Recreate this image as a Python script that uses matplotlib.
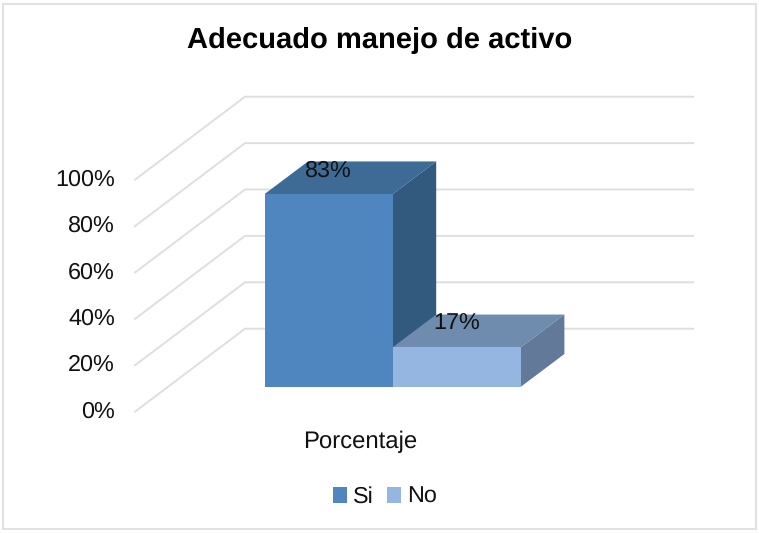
import matplotlib
matplotlib.use('Agg')
import matplotlib.pyplot as plt
from matplotlib.patches import Polygon, Rectangle

plt.rcParams['font.family'] = ['Liberation Sans', 'DejaVu Sans']
plt.rcParams['text.hinting'] = 'none'

title = 'Adecuado manejo de activo'
category = 'Porcentaje'
series = ['Si', 'No']
values = [83, 17]
value_labels = ['83%', '17%']
yticks = [0, 20, 40, 60, 80, 100]
ytick_labels = ['0%', '20%', '40%', '60%', '80%', '100%']

W, H = 759, 533
px_x = 128.2   # pixels for one bar width
px_y = 2.32    # pixels for one percent
bar_left_px = 264.5
bar_base_px = 386.7

# depth of the box and of the bars, in data units
wall_dx, wall_dy = 110 / px_x, 83 / px_y
bar_dx, bar_dy = 43.5 / px_x, 32.7 / px_y
# front left corner of the floor, relative to the first bar
front_x, front_y = -129.5 / px_x, -25 / px_y

fig = plt.figure(figsize=(W / 100, H / 100), dpi=100)
ax = fig.add_axes([0, 0, 1, 1])
ax.set_xlim(-bar_left_px / px_x, (W - bar_left_px) / px_x)
ax.set_ylim((bar_base_px - H) / px_y, bar_base_px / px_y)
ax.axis('off')

ax.add_patch(Rectangle((0.004, 0.008), 0.992, 0.985, transform=ax.transAxes,
                       fc='white', ec='#e2e2e2', lw=1.5))

grid_right = (693 - bar_left_px) / px_x
for t, lab in zip(yticks, ytick_labels):
    y = front_y + t
    ax.plot([front_x, front_x + wall_dx, grid_right],
            [y, y + wall_dy, y + wall_dy],
            color='#dfdfdf', lw=1.4, zorder=1)
    ax.text(front_x - 20 / px_x, y, lab, ha='right', va='center',
            fontsize=16.8, color='#111111')

xs = [0.5, 1.5]
front_cols = ['#4f86bf', '#95b6e1']
top_cols = ['#3e6b96', '#6f8bad']
side_cols = ['#32597e', '#63799a']

bars = ax.bar(xs, values, width=1, color=front_cols, zorder=4)

for x, v, top_c, side_c in zip(xs, values, top_cols, side_cols):
    l, r = x - 0.5, x + 0.5
    ax.add_patch(Polygon([(l, v), (r, v), (r + bar_dx, v + bar_dy), (l + bar_dx, v + bar_dy)],
                         fc=top_c, ec='none', zorder=3))
    ax.add_patch(Polygon([(r, 0), (r, v), (r + bar_dx, v + bar_dy), (r + bar_dx, bar_dy)],
                         fc=side_c, ec='none', zorder=3))

for x, v, lab in zip(xs, values, value_labels):
    ax.text(x, v + 23.5 / px_y, lab, ha='center', va='center',
            fontsize=16.8, color='#111111', zorder=5)

fig.text(360 / W, 1 - 441.5 / H, category, ha='center', va='center', fontsize=17.2, color='#111111')
fig.text(379.5 / W, 1 - 40 / H, title, ha='center', va='center', fontsize=21,
         fontweight='bold', color='#000000')

fig.legend(handles=list(bars), labels=series, loc='center', bbox_to_anchor=(385 / W, 1 - 497 / H),
           ncols=2, frameon=False, fontsize=16.8, handlelength=0.58, handleheight=0.65,
           handletextpad=0.25, columnspacing=0.6, labelcolor='#111111')

fig.savefig('out.png', dpi=100)
